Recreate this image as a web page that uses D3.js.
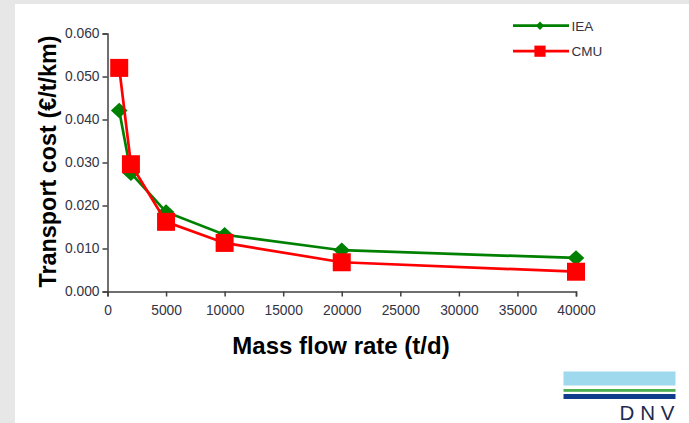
<!DOCTYPE html>
<html>
<head>
<meta charset="utf-8">
<script src="https://cdn.jsdelivr.net/npm/d3@7/dist/d3.min.js"></script>
<style>
  html, body { margin: 0; padding: 0; background: #e7e7e7; }
  svg { display: block; font-family: "Liberation Sans", Arial, sans-serif; }
</style>
</head>
<body>
<svg id="chart" width="689" height="423"></svg>
<script>
// Mass flow rate (t/d) and transport cost (€/t/km) for each study
const flowRates = [1000, 2000, 5000, 10000, 20000, 40000];
const ieaCost = [0.0421, 0.0275, 0.0185, 0.0132, 0.0096, 0.0078];
const cmuCost = [0.0520, 0.0296, 0.0162, 0.0113, 0.0068, 0.0046];
const seriesNames = ["IEA", "CMU"];
const xTicks = [0, 5000, 10000, 15000, 20000, 25000, 30000, 35000, 40000];
const yTicks = [0, 0.01, 0.02, 0.03, 0.04, 0.05, 0.06];

const svg = d3.select("#chart");

// white slide panel
svg.append("rect").attr("x", 15).attr("y", 4).attr("width", 674).attr("height", 419).attr("fill", "#ffffff");

const x = d3.scaleLinear().domain([0, 40000]).range([107.5, 576]);
const y = d3.scaleLinear().domain([0, 0.06]).range([291.5, 33.5]);

const axisColor = "#404040";
const labelColor = "#333344";

// y axis
const yAxis = svg.append("g").attr("transform", `translate(${x(0)},0)`)
  .call(d3.axisLeft(y).tickValues(yTicks).tickFormat(d3.format(".3f")).tickSize(5).tickPadding(3));
// x axis
const xAxis = svg.append("g").attr("transform", `translate(0,${y(0)})`)
  .call(d3.axisBottom(x).tickValues(xTicks).tickFormat(d3.format("d")).tickSize(5).tickPadding(9));

[yAxis, xAxis].forEach(g => {
  g.select(".domain").attr("stroke", axisColor).attr("stroke-width", 1.5);
  g.selectAll(".tick line").attr("stroke", axisColor).attr("stroke-width", 1.5);
  g.selectAll(".tick text").attr("fill", labelColor).style("font-size", "13.8px")
    .style("font-family", "'Liberation Sans', Arial, sans-serif");
});

// axis titles
svg.append("text").attr("x", 341).attr("y", 354).attr("text-anchor", "middle")
  .attr("font-size", 24).attr("font-weight", "bold").attr("fill", "#000")
  .text("Mass flow rate (t/d)");
svg.append("text").attr("transform", "translate(56,161.5) rotate(-90)").attr("text-anchor", "middle")
  .attr("font-size", 23.4).attr("font-weight", "bold").attr("fill", "#000")
  .text("Transport cost (€/t/km)");

// diamond marker, slightly wider than tall
const diamond = (hw, hh) => ({
  draw(ctx) {
    ctx.moveTo(0, -hh); ctx.lineTo(hw, 0); ctx.lineTo(0, hh); ctx.lineTo(-hw, 0); ctx.closePath();
  }
});
const square = (h) => ({
  draw(ctx) { ctx.rect(-h, -h, 2 * h, 2 * h); }
});

const line = d3.line().x(d => x(d[0])).y(d => y(d[1]));
const series = [
  { name: seriesNames[0], values: ieaCost, color: "#008000", mark: diamond(8.3, 7.8), legendMark: diamond(4, 4.2) },
  { name: seriesNames[1], values: cmuCost, color: "#ff0000", mark: square(9), legendMark: square(5.6) }
];

series.forEach(s => {
  const pts = flowRates.map((f, i) => [f, s.values[i]]);
  svg.append("path").datum(pts).attr("d", line)
    .attr("fill", "none").attr("stroke", s.color).attr("stroke-width", 2.7);
  svg.append("g").selectAll("path").data(pts).join("path")
    .attr("d", d3.symbol().type(s.mark))
    .attr("transform", d => `translate(${x(d[0])},${y(d[1])})`)
    .attr("fill", s.color);
});

// legend
const legend = svg.append("g");
series.forEach((s, i) => {
  const ly = 25.7 + i * 25.5;
  legend.append("line").attr("x1", 513).attr("x2", 569).attr("y1", ly).attr("y2", ly)
    .attr("stroke", s.color).attr("stroke-width", 2.7);
  legend.append("path").attr("d", d3.symbol().type(s.legendMark))
    .attr("transform", `translate(540,${ly})`)
    .attr("fill", s.color);
  legend.append("text").attr("x", 571.5).attr("y", ly + 5).attr("font-size", 13.5)
    .attr("fill", labelColor).text(s.name);
});

// DNV logo
const logo = svg.append("g");
logo.append("rect").attr("x", 563.5).attr("y", 371.5).attr("width", 112).attr("height", 14).attr("fill", "#9fd9ee");
logo.append("rect").attr("x", 563.5).attr("y", 389).attr("width", 112).attr("height", 2.8).attr("fill", "#4caf50");
logo.append("rect").attr("x", 563.5).attr("y", 394).attr("width", 112).attr("height", 5).attr("fill", "#0f3d8c");
logo.append("text").attr("x", 619.5).attr("y", 419.5)
  .attr("font-size", 20.5).attr("fill", "#1c2a4f")
  .attr("textLength", 55).attr("lengthAdjust", "spacing")
  .style("font-family", "'Liberation Sans', Arial, sans-serif").text("DNV");
</script>
</body>
</html>
